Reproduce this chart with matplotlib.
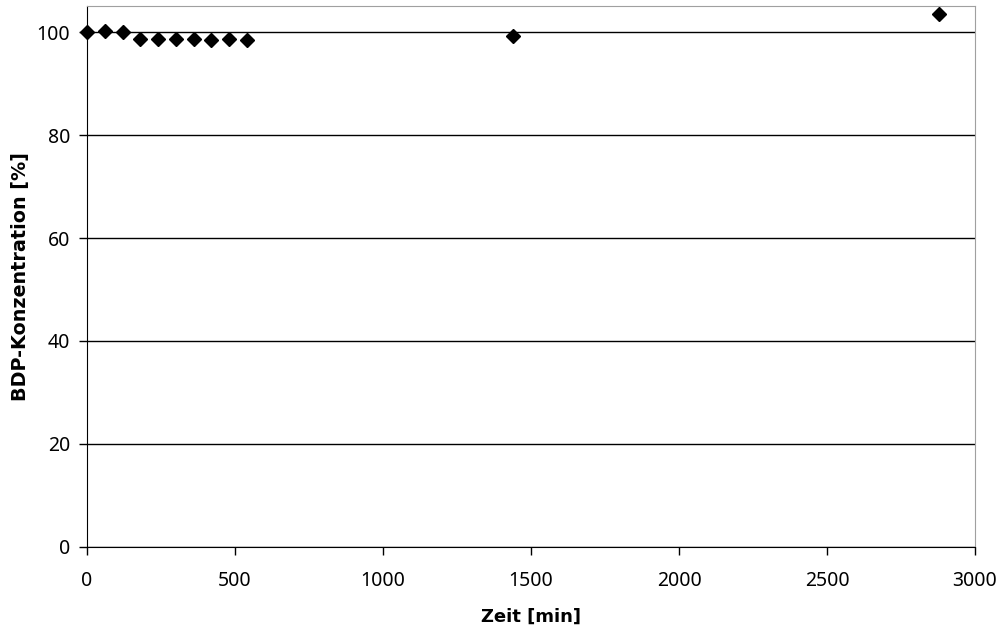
import matplotlib.pyplot as plt

zeit_min = [0, 60, 120, 180, 240, 300, 360, 420, 480, 540, 1440, 2880]
konzentration = [100.0, 100.3, 100.0, 98.6, 98.7, 98.7, 98.6, 98.4, 98.6, 98.4, 99.3, 103.6]

x_ticks = [0, 500, 1000, 1500, 2000, 2500, 3000]
y_ticks = [0, 20, 40, 60, 80, 100]

plt.rcParams['font.family'] = ['Noto Sans', 'DejaVu Sans']

fig = plt.figure(figsize=(9.98, 6.28), dpi=100)
ax = fig.add_axes([87 / 998, 1 - 546.7 / 628, 888 / 998, (546.7 - 6) / 628])

ax.plot(zeit_min, konzentration, linestyle='none', marker='D', markersize=6.8,
        color='black', zorder=3, clip_on=False)

ax.set_xlim(0, 3000)
ax.set_ylim(0, 105.1)
ax.set_xticks(x_ticks)
ax.set_yticks(y_ticks)
ax.yaxis.grid(True, color='black', linewidth=1.0)
ax.set_axisbelow(True)

ax.tick_params(axis='both', direction='out', length=6, width=1, labelsize=14, color='black')
ax.tick_params(axis='x', pad=11.5)
ax.tick_params(axis='y', pad=6)

for side in ['top', 'right']:
    ax.spines[side].set_color('#a0a0a0')
for side in ['left', 'bottom']:
    ax.spines[side].set_color('black')

ax.set_xlabel('Zeit [min]', fontsize=13, fontweight='bold', family='DejaVu Sans', labelpad=12)
ax.set_ylabel('BDP-Konzentration [%]', fontsize=13.8, fontweight='bold', family='DejaVu Sans', labelpad=5)

fig.savefig('out.png', dpi=100)
